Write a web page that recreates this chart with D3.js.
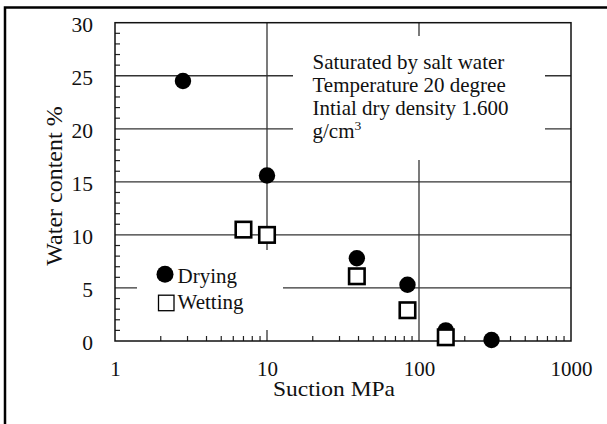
<!DOCTYPE html>
<html>
<head>
<meta charset="utf-8">
<script src="https://cdn.jsdelivr.net/npm/d3@7"></script>
<style>
  html, body { margin: 0; padding: 0; background: #fff; }
  svg { display: block; }
</style>
</head>
<body>
<svg id="chart" width="607" height="424"></svg>
<script>
// ---- data ----
const xTickValues = [1, 10, 100, 1000];
const yTickValues = [0, 5, 10, 15, 20, 25, 30];
const xGridValues = [10, 100];
const yGridValues = [5, 10, 15, 20, 25];
const dryingSuction = [2.8, 10, 39, 84, 150, 300];
const dryingWater = [24.5, 15.6, 7.8, 5.3, 1.0, 0.1];
const wettingSuction = [7, 10, 39, 84, 150];
const wettingWater = [10.5, 10.0, 6.1, 2.9, 0.35];
const seriesNames = ["Drying", "Wetting"];
const noteLines = ["Saturated by salt water", "Temperature 20 degree", "Intial dry density 1.600"];
const xTitle = "Suction MPa";
const yTitle = "Water content %";

const FONT = "'Liberation Serif', 'Times New Roman', Tinos, 'DejaVu Serif', serif";

// ---- layout ----
const svg = d3.select("#chart").attr("font-family", FONT);
const L = 115, R = 571, T = 22.7, B = 341;
const x = d3.scaleLog().domain([1, 1000]).range([L, R]);
const y = d3.scaleLinear().domain([0, 30]).range([B, T]);

// outer frame (right/bottom edges fall outside the picture)
svg.append("rect").attr("x", 5).attr("y", 7.5).attr("width", 700).attr("height", 500)
  .attr("fill", "none").attr("stroke", "#000").attr("stroke-width", 2.5);

// gridlines
svg.append("g").selectAll("line").data(yGridValues).join("line")
  .attr("x1", L).attr("x2", R).attr("y1", d => y(d)).attr("y2", d => y(d))
  .attr("stroke", "#333").attr("stroke-width", 1.3);
svg.append("g").selectAll("line").data(xGridValues).join("line")
  .attr("x1", d => x(d)).attr("x2", d => x(d)).attr("y1", T).attr("y2", B)
  .attr("stroke", "#333").attr("stroke-width", 1.3);

// minor ticks
const yMinor = d3.range(1, 30).filter(v => v % 5 !== 0);
svg.append("g").selectAll("line").data(yMinor).join("line")
  .attr("x1", L).attr("x2", L + 5).attr("y1", d => y(d)).attr("y2", d => y(d))
  .attr("stroke", "#222").attr("stroke-width", 1.2);
const xMinor = [];
[1, 10, 100].forEach(dec => { for (let k = 2; k <= 9; k++) xMinor.push(dec * k); });
svg.append("g").selectAll("line").data(xMinor).join("line")
  .attr("x1", d => x(d)).attr("x2", d => x(d)).attr("y1", B).attr("y2", B - 5)
  .attr("stroke", "#222").attr("stroke-width", 1.2);

// plot frame
svg.append("rect").attr("x", L).attr("y", T).attr("width", R - L).attr("height", B - T)
  .attr("fill", "none").attr("stroke", "#111").attr("stroke-width", 1.5);

// white boxes (annotation and legend) covering gridlines
svg.append("rect").attr("x", 293).attr("y", 36).attr("width", 252).attr("height", 124).attr("fill", "#fff");
svg.append("rect").attr("x", 137).attr("y", 250).attr("width", 146).attr("height", 80).attr("fill", "#fff");

// axes labels via d3 axes
const xAxis = d3.axisBottom(x).tickValues(xTickValues).tickFormat(d3.format("d")).tickSize(0).tickPadding(20);
const gx = svg.append("g").attr("transform", `translate(0,${B})`).call(xAxis);
gx.select(".domain").remove();
gx.attr("font-family", FONT).attr("font-size", 21);
gx.selectAll("text").attr("fill", "#111");

const yAxis = d3.axisLeft(y).tickValues(yTickValues).tickSize(0).tickPadding(22);
const gy = svg.append("g").attr("transform", `translate(${L},1.5)`).call(yAxis);
gy.select(".domain").remove();
gy.attr("font-family", FONT).attr("font-size", 21.5);
gy.selectAll("text").attr("fill", "#111");

// titles
svg.append("text").attr("transform", "translate(334,396) scale(1.12,1)").attr("text-anchor", "middle")
  .attr("font-size", 21).attr("fill", "#111").text(xTitle);
svg.append("text").attr("transform", "translate(62,186) rotate(-90)").attr("text-anchor", "middle")
  .attr("font-size", 24).attr("fill", "#111").text(yTitle);

// annotation
const noteG = svg.append("g").attr("transform", "translate(312.5,68.5) scale(1.05,1)");
noteG.selectAll("text.note").data(noteLines).join("text").attr("class", "note")
  .attr("x", 0).attr("y", (d, i) => i * 23.3)
  .attr("font-size", 20).attr("fill", "#111").text(d => d);
const last = noteG.append("text").attr("font-size", 20).attr("fill", "#111")
  .attr("x", 0).attr("y", 3 * 23.3);
last.append("tspan").text("g/cm");
last.append("tspan").attr("font-size", 13).attr("dy", -8).text("3");

// data
svg.append("g").selectAll("circle").data(dryingSuction).join("circle")
  .attr("cx", d => x(d)).attr("cy", (d, i) => y(dryingWater[i])).attr("r", 8.2).attr("fill", "#000");
const sq = 15.5;
svg.append("g").selectAll("rect").data(wettingSuction).join("rect")
  .attr("x", d => x(d) - sq / 2).attr("y", (d, i) => y(wettingWater[i]) - sq / 2)
  .attr("width", sq).attr("height", sq)
  .attr("fill", "#fff").attr("stroke", "#000").attr("stroke-width", 2.6);

// legend
svg.append("circle").attr("cx", 165).attr("cy", 274.3).attr("r", 8.5).attr("fill", "#000");
svg.append("rect").attr("x", 158.5).attr("y", 295.2).attr("width", 15.5).attr("height", 15.5)
  .attr("fill", "#fff").attr("stroke", "#000").attr("stroke-width", 1.3);
svg.append("text").attr("x", 177.5).attr("y", 282.5).attr("font-size", 21).attr("fill", "#111").text(seriesNames[0]);
svg.append("text").attr("x", 177.5).attr("y", 308.5).attr("font-size", 21).attr("fill", "#111").text(seriesNames[1]);
</script>
</body>
</html>
